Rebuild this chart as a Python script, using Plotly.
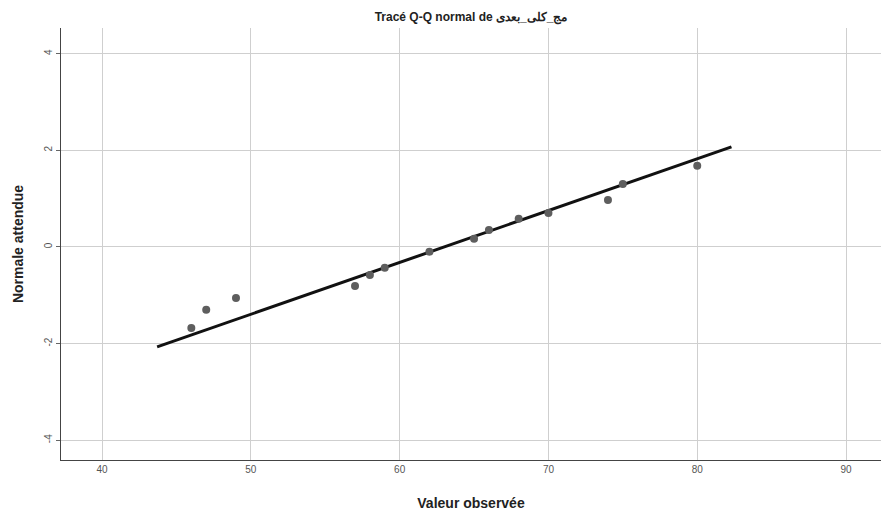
import plotly.graph_objects as go

# Observed values and expected normal values
observed = [46, 47, 49, 57, 58, 59, 62, 65, 66, 68, 70, 74, 75, 80]
expected = [-1.68, -1.30, -1.06, -0.81, -0.58, -0.43, -0.10, 0.17, 0.35, 0.58, 0.70, 0.97, 1.30, 1.68]

# Reference normal line endpoints
line_x = [43.7, 82.3]
line_y = [-2.07, 2.07]

x_ticks = [40, 50, 60, 70, 80, 90]
y_ticks = [-4, -2, 0, 2, 4]

title_text = "Tracé Q-Q normal de مج_كلى_بعدى"
x_title = "Valeur observée"
y_title = "Normale attendue"

fig = go.Figure()
fig.add_trace(go.Scatter(
    x=line_x, y=line_y, mode="lines",
    line=dict(color="#111111", width=3),
    hoverinfo="skip", showlegend=False,
))
fig.add_trace(go.Scatter(
    x=observed, y=expected, mode="markers",
    marker=dict(color="#5e5e5e", size=8, line=dict(width=0)),
    showlegend=False,
))

font_family = "Liberation Sans, Arial, sans-serif"
fig.update_layout(
    width=881, height=518,
    margin=dict(l=61, r=0, t=28, b=58),
    paper_bgcolor="white", plot_bgcolor="white",
    font=dict(family=font_family),
    title=dict(text="<b>" + title_text + "</b>", x=0.5, xref="paper", xanchor="center",
               y=1 - 17 / 518, yanchor="middle",
               font=dict(size=12, color="#222222", family=font_family)),
    xaxis=dict(
        range=[37.24, 92.35], tickvals=x_ticks, ticktext=[str(v) for v in x_ticks],
        showgrid=True, gridcolor="#cfcfcf", gridwidth=1,
        zeroline=False, showline=True, linecolor="#444444", linewidth=1,
        ticks="", tickfont=dict(size=10, color="#555555"),
        title=dict(text="<b>" + x_title + "</b>", font=dict(size=14, color="#222222"), standoff=24),
    ),
    yaxis=dict(
        range=[-4.41, 4.53], tickvals=y_ticks, ticktext=[str(v) for v in y_ticks],
        showgrid=True, gridcolor="#cfcfcf", gridwidth=1,
        zeroline=False, showline=True, linecolor="#444444", linewidth=1,
        ticks="outside", ticklen=4, tickcolor="#666666",
        tickangle=-90, tickfont=dict(size=10, color="#555555"),
        title=dict(text="<b>" + y_title + "</b>", font=dict(size=14, color="#222222"), standoff=16),
    ),
)

fig.write_html("out.html")
